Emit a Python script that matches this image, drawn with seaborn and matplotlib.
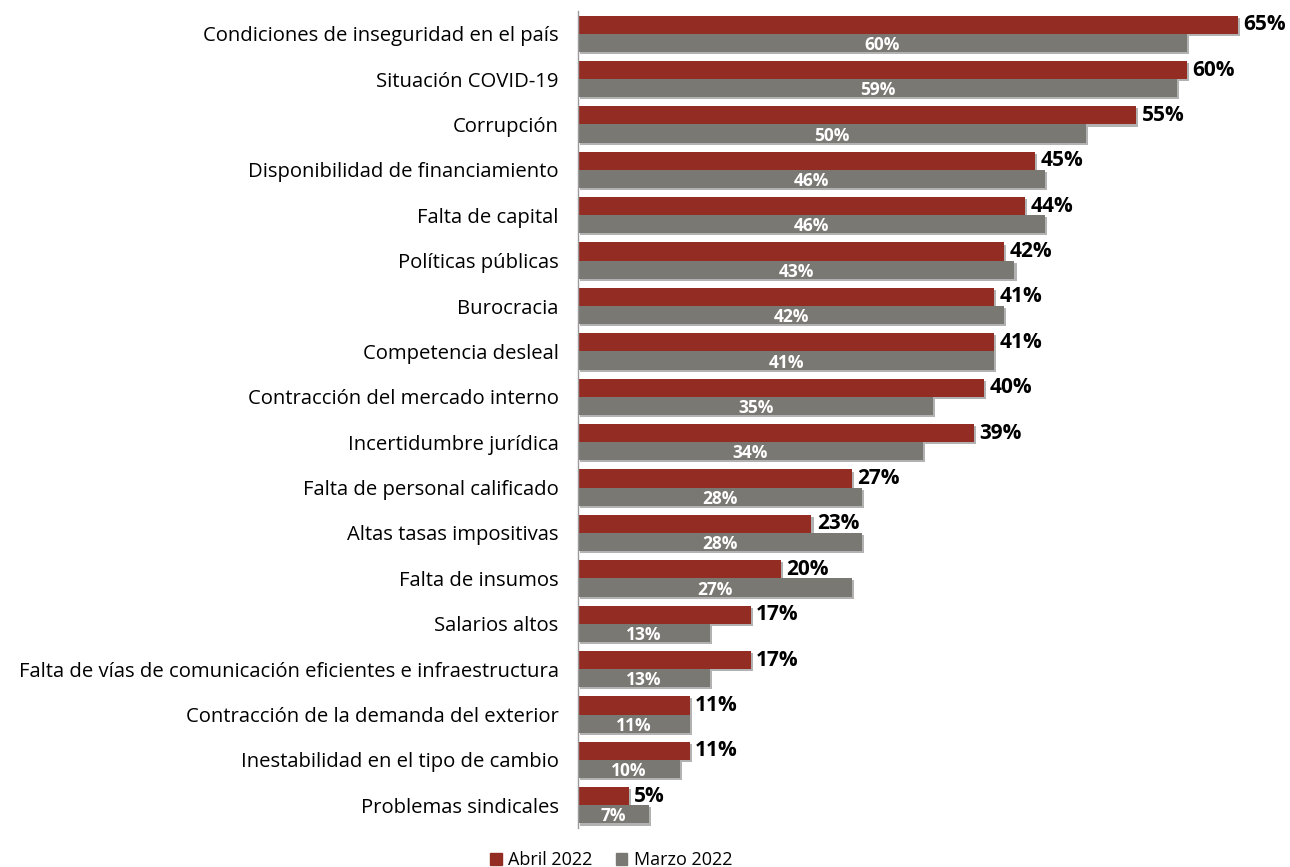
import numpy as np
import pandas as pd
import matplotlib.pyplot as plt
import matplotlib.patheffects as pe
import seaborn as sns

categorias = [
    "Condiciones de inseguridad en el país",
    "Situación COVID-19",
    "Corrupción",
    "Disponibilidad de financiamiento",
    "Falta de capital",
    "Políticas públicas",
    "Burocracia",
    "Competencia desleal",
    "Contracción del mercado interno",
    "Incertidumbre jurídica",
    "Falta de personal calificado",
    "Altas tasas impositivas",
    "Falta de insumos",
    "Salarios altos",
    "Falta de vías de comunicación eficientes e infraestructura",
    "Contracción de la demanda del exterior",
    "Inestabilidad en el tipo de cambio",
    "Problemas sindicales",
]
abril = [65, 60, 55, 45, 44, 42, 41, 41, 40, 39, 27, 23, 20, 17, 17, 11, 11, 5]
marzo = [60, 59, 50, 46, 46, 43, 42, 41, 35, 34, 28, 28, 27, 13, 13, 11, 10, 7]
series = ["Abril 2022", "Marzo 2022"]
colores = ["#932c22", "#7a7873"]

df = pd.DataFrame({
    "categoria": categorias * 2,
    "valor": abril + marzo,
    "serie": [series[0]] * len(abril) + [series[1]] * len(marzo),
})

sns.set_theme(style="white")
plt.rcParams['font.family'] = ['Open Sans', 'DejaVu Sans']

fig = plt.figure(figsize=(12.9, 8.67), dpi=100)
ax = fig.add_axes([578 / 1290, 1 - 828 / 867, 1 - 578 / 1290, (828 - 11) / 867])

sns.barplot(data=df, x="valor", y="categoria", hue="serie", order=categorias,
            hue_order=series, palette=colores, orient="h", width=0.8,
            saturation=1, linewidth=0, ax=ax, legend=False)

# sombra ligera como en el original
shadow = [pe.SimplePatchShadow(offset=(1.5, -1.5), shadow_rgbFace="black", alpha=0.3), pe.Normal()]
for p in ax.patches:
    p.set_path_effects(shadow)

# etiquetas
c_abril, c_marzo = ax.containers[0], ax.containers[1]
ax.bar_label(c_abril, labels=[f"{v}%" for v in abril], padding=4,
             fontsize=15, fontweight="bold", color="black")
txt = ax.bar_label(c_marzo, labels=[f"{v}%" for v in marzo], label_type="center",
                   fontsize=12.5, fontweight="bold", color="white")
for t in txt:
    t.set_va("center")
    x, y = t.get_position()
    t.set_position((x, y - 1.5))

ax.set_xlim(0, (1290 - 578) / 10.15)
ax.set_ylim(len(categorias) - 0.5, -0.5)
ax.set_xlabel("")
ax.set_ylabel("")
ax.set_xticks([])
for s in ["top", "right", "bottom"]:
    ax.spines[s].set_visible(False)
ax.spines["left"].set_color("#9a9a9a")
ax.spines["left"].set_linewidth(1)
ax.tick_params(axis="y", length=0, pad=14, labelsize=14.6, labelcolor="black")

handles = [plt.Rectangle((0, 0), 1, 1, color=c) for c in colores]
fig.legend(handles, series, loc="upper center", bbox_to_anchor=(611 / 1290, 1 - 835 / 867),
           ncol=2, frameon=False, fontsize=13, handlelength=0.65, handleheight=0.65,
           handletextpad=0.35, columnspacing=1.3, labelcolor="black")

fig.savefig("out.png", dpi=100)
